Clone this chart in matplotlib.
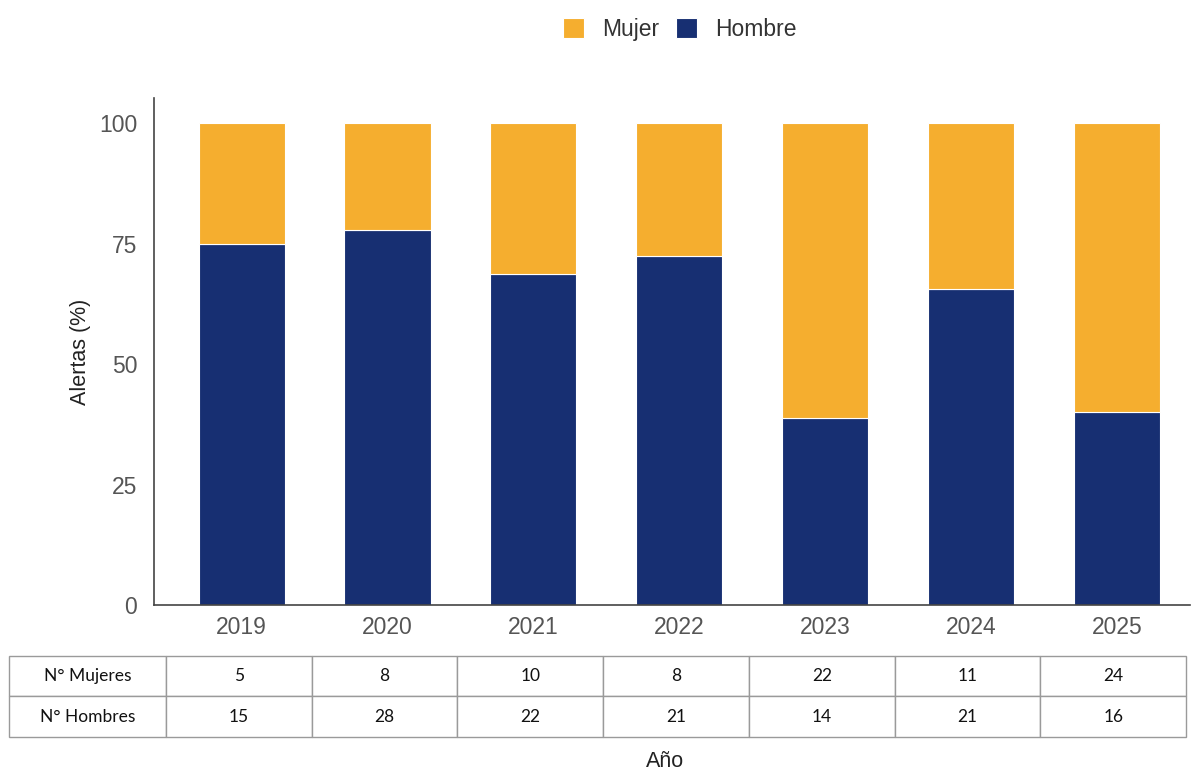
import matplotlib.pyplot as plt
import numpy as np

plt.rcParams['font.family'] = ['Liberation Sans', 'DejaVu Sans']

years = ['2019', '2020', '2021', '2022', '2023', '2024', '2025']
mujeres = [5, 8, 10, 8, 22, 11, 24]
hombres = [15, 28, 22, 21, 14, 21, 16]

c_mujer = '#F5AE2F'
c_hombre = '#172F72'

muj = np.array(mujeres, dtype=float)
hom = np.array(hombres, dtype=float)
pct_h = hom / (muj + hom) * 100
pct_m = 100 - pct_h

fig = plt.figure(figsize=(11.94, 7.74), dpi=100)
ax = fig.add_axes([0.129, 0.2183, 0.8676, 0.6551])

x = np.arange(len(years))
ax.bar(x, pct_h, width=0.59, color=c_hombre, edgecolor='white', linewidth=0.8, label='Hombre')
ax.bar(x, pct_m, width=0.59, bottom=pct_h, color=c_mujer, edgecolor='white', linewidth=0.8, label='Mujer')

ax.set_xlim(-0.6, 6.5)
ax.set_ylim(0, 105.2)
ax.set_yticks([0, 25, 50, 75, 100])
ax.set_xticks(x)
ax.set_xticklabels(years)
ax.tick_params(length=0, labelsize=16.5, labelcolor='#555555', pad=8)
ax.tick_params(axis='y', pad=12)
for s in ['top', 'right']:
    ax.spines[s].set_visible(False)
for s in ['left', 'bottom']:
    ax.spines[s].set_color('#444444')
    ax.spines[s].set_linewidth(1.2)
ax.set_ylabel('Alertas (%)', fontsize=15.5, color='#222222', labelpad=6)

handles, labels = ax.get_legend_handles_labels()
fig.legend(handles[::-1], labels[::-1], loc='center', bbox_to_anchor=(0.5695, 0.962),
           ncol=2, frameon=False, fontsize=16.5, handlelength=0.9, handleheight=0.9,
           columnspacing=0.75, handletextpad=0.8, labelcolor='#333333')

# counts table under the bars
tab_ax = fig.add_axes([0.0075, 0.0478, 0.9858, 0.1047])
tab_ax.axis('off')
cells = [['N° Mujeres'] + [str(v) for v in mujeres],
         ['N° Hombres'] + [str(v) for v in hombres]]
widths = [157] + [145.6] * 7
tot = sum(widths)
tbl = tab_ax.table(cellText=cells, colWidths=[w / tot for w in widths],
                   cellLoc='center', bbox=[0, 0, 1, 1])
tbl.auto_set_font_size(False)
for (r, c), cell in tbl.get_celld().items():
    cell.set_edgecolor('#9a9a9a')
    cell.set_linewidth(1.0)
    cell.get_text().set_fontsize(12.5)
    cell.get_text().set_color('#111111')
    cell.get_text().set_fontfamily(['Lato', 'DejaVu Sans'])

fig.text(0.557, 0.003, 'Año', ha='center', va='bottom', fontsize=15.5, color='#222222')

fig.savefig('out.png', dpi=100)
